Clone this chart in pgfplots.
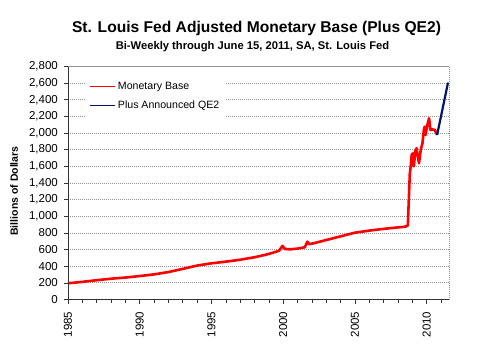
\documentclass[border=0pt]{standalone}
\usepackage{fontspec}
\setmainfont{Liberation Sans}
\usepackage{pgfplots}
\pgfplotsset{compat=1.18}
\definecolor{qeblue}{RGB}{0,20,110}
\begin{document}
\begin{tikzpicture}[x=1pt,y=1pt]
\useasboundingbox (0,0) rectangle (496,357);
\node[font=\bfseries\fontsize{15.6}{18}\selectfont] at (256.5,328.5) {St. Louis Fed Adjusted Monetary Base (Plus QE2)};
\node[font=\bfseries\fontsize{11.2}{13}\selectfont] at (252.5,310.5) {Bi-Weekly through June 15, 2011, SA, St. Louis Fed};
\node[font=\bfseries\fontsize{10.5}{12}\selectfont, rotate=90] at (14,166) {Billions of Dollars};
\begin{axis}[
  at={(68pt,57.5pt)}, anchor=south west,
  scale only axis, width=381pt, height=233pt,
  xmin=1985, xmax=2011.55, ymin=0, ymax=2800,
  xtick={1985,1990,1995,2000,2005,2010},
  minor xtick={1986,...,2011},
  ytick={0,200,...,2800},
  xtick pos=bottom, ytick pos=left,
  tick align=outside, major tick length=4pt, minor tick length=3pt,
  tick style={black!80, line width=0.6pt},
  /pgf/number format/assume math mode=true,
  x tick label style={/pgf/number format/1000 sep={}, rotate=90, anchor=east, font=\fontsize{11.5}{13}\selectfont, inner sep=1pt},
  y tick label style={/pgf/number format/1000 sep={,}, font=\fontsize{11.5}{13}\selectfont, inner sep=1pt},
  xticklabel shift=7pt, yticklabel shift=5pt,
  ymajorgrids,
  grid style={gray!85, dash pattern=on 1pt off 1pt, line width=0.8pt},
  axis line style={gray!85, dash pattern=on 1pt off 1pt, line width=0.8pt},
  legend style={at={(0.045,0.968)}, anchor=north west, draw=none, fill=white,
    font=\fontsize{10.6}{12}\selectfont, row sep=6pt, inner xsep=4pt, inner ysep=6pt},
  legend cell align=left,
  legend image code/.code={\draw[#1] (0pt,0pt) -- (25pt,0pt);},
]
\addlegendimage{red, line width=1.6pt}
\addlegendentry{Monetary Base}
\addlegendimage{qeblue, line width=1.3pt}
\addlegendentry{Plus Announced QE2}
\addplot[red, line width=2.6pt, line join=round, forget plot] coordinates {
(1985.0,195) (1986.0,212) (1987.0,232) (1988.0,250) (1989.0,264) (1990.0,282)
(1991.0,302) (1992.0,330) (1993.0,368) (1994.0,408) (1995.0,435) (1996.0,455)
(1997.0,478) (1998.0,508) (1998.5,527) (1999.0,548) (1999.7,585) (1999.95,645)
(2000.1,608) (2000.5,603) (2001.0,612) (2001.5,627) (2001.68,695) (2001.8,665)
(2002.1,675) (2003.0,715) (2003.9,755) (2005.0,803) (2006.0,828) (2006.7,843)
(2007.5,858) (2008.1,868) (2008.5,875) (2008.68,890) (2008.75,1200) (2008.82,1517)
(2008.88,1600) (2008.95,1740) (2009.03,1757) (2009.1,1600) (2009.2,1780) (2009.28,1817)
(2009.38,1720) (2009.46,1637) (2009.58,1800) (2009.7,1877) (2009.8,2040) (2009.86,2077)
(2009.92,1977) (2010.02,2080) (2010.16,2178) (2010.26,2037) (2010.4,2045) (2010.56,2037)
(2010.64,2010) (2010.72,1977)
};
\addplot[qeblue, line width=2.2pt, line join=round, forget plot] coordinates {
(2010.72,1977) (2011.1,2290) (2011.48,2606)
};
\draw[black!80, line width=0.8pt] (rel axis cs:0,0) -- (rel axis cs:0,1);
\draw[black!80, line width=0.8pt] (rel axis cs:0,0) -- (rel axis cs:1,0);
\end{axis}
\end{tikzpicture}
\end{document}
